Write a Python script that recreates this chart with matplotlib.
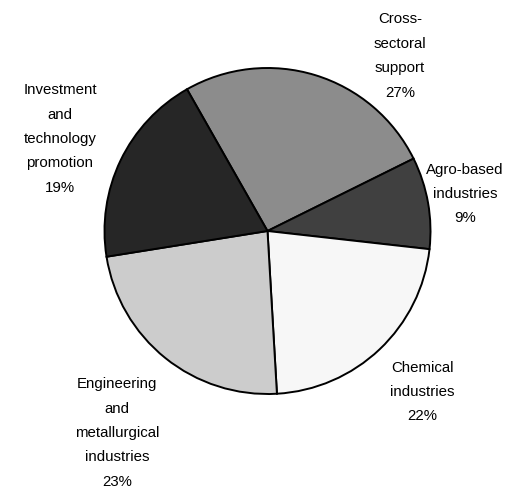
import matplotlib
matplotlib.use("Agg")
import matplotlib.pyplot as plt

# Data (clockwise from the Cross-sectoral slice)
categories = ["Cross-\nsectoral\nsupport", "Agro-based\nindustries", "Chemical\nindustries",
              "Engineering\nand\nmetallurgical\nindustries", "Investment\nand\ntechnology\npromotion"]
shares = [25.9, 9.1, 22.3, 23.4, 19.3]          # slice sizes as drawn
pct_labels = ["27%", "9%", "22%", "23%", "19%"]  # printed percentages
colors = ["#8c8c8c", "#404040", "#f7f7f7", "#cccccc", "#262626"]

W, H = 532, 493
fig = plt.figure(figsize=(W / 100, H / 100), dpi=100)
ax = fig.add_axes([0, 0, 1, 1])

cx, cy, r = 267.5, H - 231, 163
ax.pie(shares, colors=colors, startangle=119.6, counterclock=False,
       center=(cx, cy), radius=r,
       wedgeprops=dict(edgecolor="black", linewidth=1.4))
ax.set_xlim(0, W)
ax.set_ylim(0, H)
ax.set_aspect("equal")
ax.axis("off")

# label centres (pixel coords from top-left)
label_pos = [(400, 56), (465, 194), (422, 392), (117, 433), (60, 139)]
for cat, pct, (x, y) in zip(categories, pct_labels, label_pos):
    ax.text(x, H - y, cat + "\n" + pct, ha="center", va="center",
            fontsize=10.8, family="Liberation Sans", linespacing=1.95, color="black")

fig.savefig("out.png", dpi=100)
